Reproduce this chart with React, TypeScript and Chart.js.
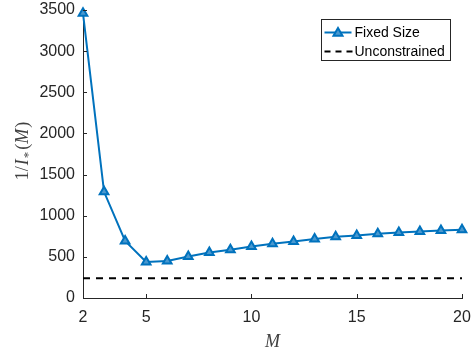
import React, { useEffect, useRef } from "react";
import { Chart, registerables } from "chart.js";

Chart.register(...registerables);

const mValues = [2, 3, 4, 5, 6, 7, 8, 9, 10, 11, 12, 13, 14, 15, 16, 17, 18, 19, 20];
const fixedSize = [3460, 1290, 694, 437, 450, 505, 554, 587, 627, 660, 688, 717, 745, 761, 781, 797, 809, 821, 830];
const unconstrainedX = [2, 20];
const unconstrainedY = [240, 240];
const xTicks = [2, 5, 10, 15, 20];
const yMin = 0;
const yMax = 3500;
const yStep = 500;
const legendLabels = ["Fixed Size", "Unconstrained"];

const BLUE = "#0072BD";
const AXIS = "#262626";

const zeroPad = (scale: any) => {
  scale.paddingTop = 0;
  scale.paddingBottom = 0;
  scale.paddingLeft = 0;
  scale.paddingRight = 0;
};

const decorPlugin = {
  id: "decor",
  afterDraw(chart: any) {
    const ctx = chart.ctx as CanvasRenderingContext2D;
    const area = chart.chartArea;
    const xs = chart.scales.x;
    const ys = chart.scales.y;
    ctx.save();
    // inward ticks
    ctx.strokeStyle = AXIS;
    ctx.lineWidth = 1;
    xs.ticks.forEach((t: any) => {
      const px = Math.round(xs.getPixelForValue(t.value)) + 0.5;
      ctx.beginPath();
      ctx.moveTo(px, area.bottom);
      ctx.lineTo(px, area.bottom - 4);
      ctx.stroke();
    });
    ys.ticks.forEach((t: any) => {
      const py = Math.round(ys.getPixelForValue(t.value)) + 0.5;
      ctx.beginPath();
      ctx.moveTo(area.left, py);
      ctx.lineTo(area.left + 4, py);
      ctx.stroke();
    });

    // legend
    const bx = Math.round(area.right) - 140.5;
    const by = Math.round(area.top) + 9.5;
    const bw = 129;
    const bh = 41;
    ctx.fillStyle = "#ffffff";
    ctx.fillRect(bx, by, bw, bh);
    ctx.strokeStyle = AXIS;
    ctx.lineWidth = 1;
    ctx.strokeRect(bx, by, bw, bh);
    const r1 = by + 13;
    const r2 = by + 32;
    const lx0 = bx + 3;
    const lx1 = bx + 30;
    ctx.strokeStyle = BLUE;
    ctx.lineWidth = 2;
    ctx.setLineDash([]);
    ctx.beginPath();
    ctx.moveTo(lx0, r1);
    ctx.lineTo(lx1, r1);
    ctx.stroke();
    const cx = (lx0 + lx1) / 2;
    const s = 4.5;
    ctx.beginPath();
    ctx.moveTo(cx, r1 - s);
    ctx.lineTo(cx + s, r1 + s * 0.7);
    ctx.lineTo(cx - s, r1 + s * 0.7);
    ctx.closePath();
    ctx.fillStyle = "#4a98cf";
    ctx.fill();
    ctx.stroke();
    ctx.strokeStyle = "#000000";
    ctx.setLineDash([6, 5]);
    ctx.beginPath();
    ctx.moveTo(lx0, r2);
    ctx.lineTo(lx1 + 1, r2);
    ctx.stroke();
    ctx.setLineDash([]);
    ctx.fillStyle = "#000000";
    ctx.font = '14px "Liberation Sans", Arial, sans-serif';
    ctx.textBaseline = "middle";
    ctx.textAlign = "left";
    ctx.fillText(legendLabels[0], lx1 + 3, r1 + 1);
    ctx.fillText(legendLabels[1], lx1 + 3, r2 + 1);

    // y axis label: 1/I_*(M)
    ctx.save();
    ctx.translate(22, 151);
    ctx.rotate(-Math.PI / 2);
    ctx.fillStyle = "#404040";
    ctx.textBaseline = "alphabetic";
    const normal = '18px "Liberation Serif", "DejaVu Serif", serif';
    const ital = 'italic 18px "Liberation Serif", "DejaVu Serif", serif';
    const sub = '13px "Liberation Serif", "DejaVu Serif", serif';
    const parts: [string, string, number, number][] = [
      ["1", normal, 0, 0],
      ["/", normal, 0, 1],
      ["I", ital, 0, 1],
      ["*", sub, 4, 2],
      ["(", normal, 0, 0],
      ["M", ital, 0, 1],
      [")", normal, 0, 0],
    ];
    let total = 0;
    parts.forEach(([t, f, , gap]) => {
      ctx.font = f;
      total += ctx.measureText(t).width + gap;
    });
    let x = -total / 2;
    parts.forEach(([t, f, dy, gap]) => {
      ctx.font = f;
      ctx.fillText(t, x, 6 + dy);
      x += ctx.measureText(t).width + gap;
    });
    ctx.restore();

    // x axis label
    ctx.fillStyle = "#404040";
    ctx.font = 'italic 18px "Liberation Serif", "DejaVu Serif", serif';
    ctx.textAlign = "center";
    ctx.textBaseline = "middle";
    ctx.fillText("M", (area.left + area.right) / 2, 342);
    ctx.restore();
  },
};

export default function App() {
  const ref = useRef<HTMLCanvasElement | null>(null);
  useEffect(() => {
    document.body.style.margin = "0";
    if (!ref.current) return;
    Chart.defaults.font.family = '"Liberation Sans", Arial, sans-serif';
    const chart = new Chart(ref.current, {
      type: "line",
      data: {
        datasets: [
          {
            label: legendLabels[0],
            data: mValues.map((m, i) => ({ x: m, y: fixedSize[i] })),
            borderColor: BLUE,
            borderWidth: 2,
            pointStyle: "triangle",
            pointRadius: 5,
            pointBorderWidth: 2,
            pointBorderColor: BLUE,
            pointBackgroundColor: "#4a98cf",
            tension: 0,
            clip: false,
          },
          {
            label: legendLabels[1],
            data: unconstrainedX.map((m, i) => ({ x: m, y: unconstrainedY[i] })),
            borderColor: "#000000",
            borderWidth: 2,
            borderDash: [7, 6],
            pointRadius: 0,
            tension: 0,
          },
        ],
      },
      options: {
        animation: false,
        responsive: false,
        devicePixelRatio: 1,
        layout: { padding: { top: 10, right: 11, left: 0, bottom: 0 } },
        plugins: { legend: { display: false }, tooltip: { enabled: false } },
        scales: {
          x: {
            type: "linear",
            min: 2,
            max: 20,
            afterBuildTicks: (scale: any) => {
              scale.ticks = xTicks.map((v) => ({ value: v }));
            },
            afterFit: (scale: any) => {
              scale.height = 57;
              zeroPad(scale);
            },
            grid: { display: false, drawTicks: false },
            border: { display: true, color: AXIS, width: 1 },
            ticks: {
              color: AXIS,
              font: { size: 16 },
              padding: 10,
              maxRotation: 0,
              autoSkip: false,
              callback: (v: any) => String(v),
            },
          },
          y: {
            type: "linear",
            min: yMin,
            max: yMax,
            afterFit: (scale: any) => {
              scale.width = 83;
              zeroPad(scale);
            },
            grid: { display: false, drawTicks: false },
            border: { display: true, color: AXIS, width: 1 },
            ticks: {
              color: AXIS,
              font: { size: 16 },
              stepSize: yStep,
              padding: 8,
              callback: (v: any) => String(v),
            },
          },
        },
      },
      plugins: [decorPlugin],
    });
    return () => chart.destroy();
  }, []);
  return (
    <div style={{ width: 473, height: 355 }}>
      <canvas ref={ref} width={473} height={355} />
    </div>
  );
}
